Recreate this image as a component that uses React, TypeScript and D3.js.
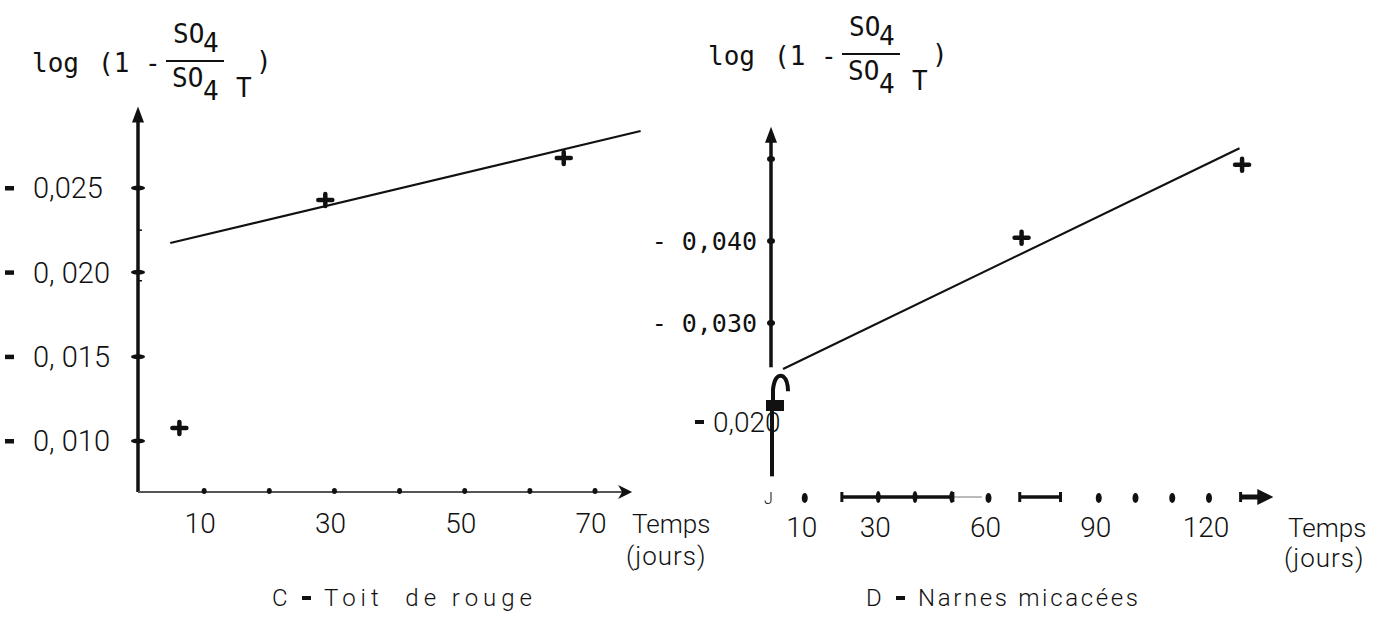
import React from "react";
import * as d3 from "d3";

// ---------- Panel C : Toit de rouge ----------
const cDays = [6.2, 28.6, 65.2];
const cValues = [0.01077, 0.02429, 0.02678];
const cFitDays = [4.8, 77];
const cFitValues = [0.02174, 0.02838];
const cYTicks = [0.01, 0.015, 0.02, 0.025];
const cYTickLabels = ["0, 010", "0, 015", "0, 020", "0,025"];
const cYMinorTicks = [0.0195, 0.0225];
const cXTicks = [10, 20, 30, 40, 50, 60, 70];
const cXLabelValues = [10, 30, 50, 70];
const cXLabels = ["10", "30", "50", "70"];
const cYAxisExtent = [0.00698, 0.0296];
const cXAxisEnd = 75.7;

// ---------- Panel D : Narnes micacées ----------
const dDays = [69, 129];
const dValues = [0.0404, 0.0493];
const dFitDays = [4.1, 128.3];
const dFitValues = [0.0244, 0.0513];
const dYTicks = [0.03, 0.04, 0.05];
const dYLabelValues = [0.04, 0.03, 0.02];
const dYLabels = ["0,040", "0,030", "0,020"];
const dYBreak = [0.0246, 0.02];
const dYUpperTop = 0.0532;
const dYLowerBottom = 0.0113;
const dXLabelValues = [10, 30, 60, 90, 120];
const dXLabels = ["10", "30", "60", "90", "120"];
const dXDots = [10, 60, 90, 100, 110, 120];
const dXSegments = [
  [20.1, 50.3],
  [68.5, 79.6],
];
const dXSegmentTicks = [30, 40, 50];
const dXThin = [50.3, 58.2];
const dXArrow = [128.6, 137.5];

const INK = "#111";
const SANS = "Roboto, 'Open Sans', sans-serif";
const MONO = "'DejaVu Sans Mono', 'Liberation Mono', monospace";

function Plus({ x, y }: { x: number; y: number }) {
  return (
    <g stroke={INK} strokeWidth={4.5} strokeLinecap="round">
      <line x1={x - 7} x2={x + 7} y1={y} y2={y} />
      <line x1={x} x2={x} y1={y - 6} y2={y + 6} />
    </g>
  );
}

function Title({ x, y }: { x: number; y: number }) {
  return (
    <g transform={`translate(${x},${y})`} fontFamily={MONO} fontSize={26} fill={INK}>
      <text x={0} y={0}>log</text>
      <text x={66} y={0} xmlSpace="preserve">(1 -</text>
      <line x1={134} x2={192} y1={-11} y2={-11} stroke={INK} strokeWidth={2} />
      <text x={141} y={-29}>SO</text>
      <text x={171} y={-20}>4</text>
      <text x={140} y={15}>SO</text>
      <text x={171} y={28}>4</text>
      <text x={204} y={25}>T</text>
      <text x={224} y={-2}>)</text>
    </g>
  );
}

function Caption({ x, y, letter, rest, length }: { x: number; y: number; letter: string; rest: string; length: number }) {
  return (
    <g fontFamily={SANS} fontWeight={300} fontSize={24} fill={INK}>
      <text x={x} y={y}>{letter}</text>
      <rect x={x + 30} y={y - 10} width={9} height={4} fill={INK} />
      <text x={x + 52} y={y} textLength={length} lengthAdjust="spacing" xmlSpace="preserve">
        {rest}
      </text>
    </g>
  );
}

function PanelC() {
  const x = d3.scaleLinear().domain([0, 70]).range([139, 595]);
  const y = d3.scaleLinear().domain([0.01, 0.025]).range([441, 188]);
  const ax = x(0) - 1;
  const yBottom = y(cYAxisExtent[0]);
  const yTop = y(cYAxisExtent[1]);
  const line = d3
    .line<[number, number]>()
    .x((d) => x(d[0]))
    .y((d) => y(d[1]));
  const fit: [number, number][] = cFitDays.map((d, i) => [d, cFitValues[i]]);
  const xEnd = x(cXAxisEnd);
  return (
    <g>
      <Title x={32} y={72} />
      {/* y axis */}
      <line x1={ax} x2={ax} y1={yBottom} y2={yTop + 8} stroke={INK} strokeWidth={3.5} />
      <path d={`M${ax},${yTop - 4} L${ax - 6},${yTop + 12} L${ax + 6},${yTop + 12} Z`} fill={INK} />
      {cYTicks.map((v) => (
        <ellipse key={v} cx={ax} cy={y(v)} rx={7} ry={2.5} fill={INK} />
      ))}
      {cYMinorTicks.map((v) => (
        <line key={v} x1={ax} x2={ax + 4} y1={y(v)} y2={y(v)} stroke={INK} strokeWidth={1.5} />
      ))}
      {cYTicks.map((v, i) => (
        <g key={"l" + v}>
          <rect x={5} y={y(v) - 2} width={9} height={4.5} fill={INK} />
          <text
            x={33}
            y={y(v)}
            dy="0.36em"
            fontFamily={SANS}
            fontWeight={300}
            fontSize={29}
            fill={INK}
            xmlSpace="preserve"
          >
            {cYTickLabels[i]}
          </text>
        </g>
      ))}
      {/* x axis */}
      <line x1={ax} x2={xEnd - 10} y1={yBottom} y2={yBottom} stroke="#555" strokeWidth={2} />
      <path
        d={`M${xEnd},${yBottom} L${xEnd - 14},${yBottom - 7} L${xEnd - 10},${yBottom} L${xEnd - 14},${yBottom + 7} Z`}
        fill={INK}
      />
      {cXTicks.map((v) => (
        <ellipse key={v} cx={x(v)} cy={yBottom - 1} rx={2.5} ry={3} fill={INK} />
      ))}
      {cXLabelValues.map((v, i) => (
        <text
          key={v}
          x={x(v) - 4}
          y={533}
          textAnchor="middle"
          fontFamily={SANS}
          fontWeight={300}
          fontSize={28}
          fill={INK}
        >
          {cXLabels[i]}
        </text>
      ))}
      <text x={632} y={533} fontFamily={SANS} fontWeight={300} fontSize={26} fill={INK}>
        Temps
      </text>
      <text x={626} y={565} fontFamily={SANS} fontWeight={300} fontSize={26} fill={INK} letterSpacing={1}>
        (jours)
      </text>
      {/* fit line */}
      <path d={line(fit) || ""} fill="none" stroke={INK} strokeWidth={2.2} />
      {cDays.map((d, i) => (
        <Plus key={d} x={x(d)} y={y(cValues[i])} />
      ))}
      <Caption x={272} y={606} letter="C" rest={"Toit  de rouge"} length={208} />
    </g>
  );
}

function PanelD() {
  const x = d3.scaleLinear().domain([0, 120]).range([768, 1209]);
  const y = d3.scaleLinear().domain([0.03, 0.04]).range([323, 241]);
  const ax = 771;
  const xAxisY = 497;
  const line = d3
    .line<[number, number]>()
    .x((d) => x(d[0]))
    .y((d) => y(d[1]));
  const fit: [number, number][] = dFitDays.map((d, i) => [d, dFitValues[i]]);
  const yTop = y(dYUpperTop);
  const yBrk = y(dYBreak[0]);
  const ySq = y(dYBreak[1]);
  const yLow = y(dYLowerBottom);
  return (
    <g>
      <Title x={708} y={65} />
      {/* upper y axis */}
      <line x1={ax} x2={ax} y1={yBrk} y2={yTop + 8} stroke={INK} strokeWidth={3.5} />
      <path d={`M${ax},${yTop - 6} L${ax - 6},${yTop + 10} L${ax + 6},${yTop + 10} Z`} fill={INK} />
      {dYTicks.map((v) => (
        <ellipse key={v} cx={ax} cy={y(v)} rx={4} ry={3} fill={INK} />
      ))}
      {/* axis break */}
      <path
        d={`M${ax + 2},${ySq} L${ax + 2},${yBrk + 22} Q${ax + 4},${yBrk + 6} ${ax + 12},${yBrk + 9} Q${ax + 17},${yBrk + 13} ${ax + 17},${yBrk + 24}`}
        fill="none"
        stroke={INK}
        strokeWidth={4}
      />
      <rect x={ax - 5} y={ySq - 5} width={18} height={11} fill={INK} />
      <line x1={ax + 1} x2={ax + 1} y1={ySq} y2={yLow} stroke={INK} strokeWidth={4} />
      {dYLabelValues.map((v, i) => {
        const below = v < dYBreak[0];
        return (
          <g key={v}>
            {below ? (
              <>
                <rect x={695} y={y(v) + 17 - 2} width={9} height={4} fill={INK} />
                <text
                  x={713}
                  y={y(v) + 17}
                  dy="0.36em"
                  fontFamily={SANS}
                  fontWeight={300}
                  fontSize={28}
                  fill={INK}
                >
                  {dYLabels[i]}
                </text>
              </>
            ) : (
              <text
                x={757}
                y={y(v)}
                dy="0.36em"
                textAnchor="end"
                fontFamily={MONO}
                fontSize={25}
                fill={INK}
                xmlSpace="preserve"
              >
                {"- " + dYLabels[i]}
              </text>
            )}
          </g>
        );
      })}
      {/* broken x axis */}
      {dXSegments.map((s) => (
        <g key={s[0]} stroke={INK}>
          <line x1={x(s[0])} x2={x(s[1])} y1={xAxisY} y2={xAxisY} strokeWidth={3.5} />
          <line x1={x(s[0])} x2={x(s[0])} y1={xAxisY - 5} y2={xAxisY + 5} strokeWidth={3} />
          <line x1={x(s[1])} x2={x(s[1])} y1={xAxisY - 5} y2={xAxisY + 5} strokeWidth={3} />
        </g>
      ))}
      <line x1={x(dXThin[0])} x2={x(dXThin[1])} y1={xAxisY} y2={xAxisY} stroke="#777" strokeWidth={1} />
      {dXSegmentTicks.map((v) => (
        <ellipse key={v} cx={x(v)} cy={xAxisY} rx={2.5} ry={6} fill={INK} />
      ))}
      {dXDots.map((v) => (
        <ellipse key={v} cx={x(v)} cy={xAxisY + 1} rx={3} ry={5} fill={INK} />
      ))}
      <line x1={x(dXArrow[0])} x2={x(dXArrow[1]) - 8} y1={xAxisY} y2={xAxisY} stroke={INK} strokeWidth={5} />
      <line x1={x(dXArrow[0])} x2={x(dXArrow[0])} y1={xAxisY - 5} y2={xAxisY + 5} stroke={INK} strokeWidth={3} />
      <path
        d={`M${x(dXArrow[1])},${xAxisY} L${x(dXArrow[1]) - 16},${xAxisY - 8} L${x(dXArrow[1]) - 16},${xAxisY + 8} Z`}
        fill={INK}
      />
      <text x={764} y={504} fontFamily={SANS} fontWeight={300} fontSize={16} fill={INK}>
        J
      </text>
      {dXLabelValues.map((v, i) => (
        <text
          key={v}
          x={x(v) - 3}
          y={537}
          textAnchor="middle"
          fontFamily={SANS}
          fontWeight={300}
          fontSize={28}
          fill={INK}
        >
          {dXLabels[i]}
        </text>
      ))}
      <text x={1288} y={537} fontFamily={SANS} fontWeight={300} fontSize={26} fill={INK}>
        Temps
      </text>
      <text x={1284} y={567} fontFamily={SANS} fontWeight={300} fontSize={26} fill={INK} letterSpacing={1}>
        (jours)
      </text>
      {/* fit line */}
      <path d={line(fit) || ""} fill="none" stroke={INK} strokeWidth={2.2} />
      {dDays.map((d, i) => (
        <Plus key={d} x={x(d)} y={y(dValues[i])} />
      ))}
      <Caption x={866} y={606} letter="D" rest={"Narnes micacées"} length={220} />
    </g>
  );
}

export default function App() {
  return (
    <svg
      width={1380}
      height={625}
      style={{ position: "absolute", left: 0, top: 0, background: "#fff" }}
    >
      <rect x={0} y={0} width={1380} height={625} fill="#fff" />
      <PanelC />
      <PanelD />
    </svg>
  );
}
